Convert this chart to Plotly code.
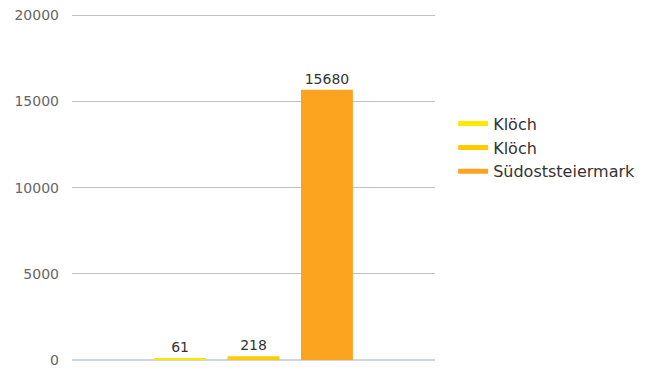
import plotly.graph_objects as go

names = ["Klöch", "Klöch", "Südoststeiermark"]
values = [61, 218, 15680]
colors = ["#ffe800", "#ffcc00", "#fca31f"]
category = [""]
ytick_vals = [0, 5000, 10000, 15000, 20000]
ytick_text = ["0", "5000", "10000", "15000", "20000"]

fig = go.Figure()
for n, v, c in zip(names, values, colors):
    fig.add_trace(go.Bar(
        x=category, y=[v], name=n, marker_color=c, marker_line_width=0,
        text=[str(v)], textposition="outside", cliponaxis=False,
        textfont=dict(family="DejaVu Sans", size=14, color="#333333"),
        showlegend=False,
    ))
for n, c in zip(names, colors):
    fig.add_trace(go.Scatter(
        x=[None], y=[None], mode="lines", name=n,
        line=dict(color=c, width=5),
    ))

fig.update_layout(
    width=640, height=366,
    margin=dict(l=64, r=213, t=3.5, b=14, autoexpand=False),
    paper_bgcolor="white", plot_bgcolor="white",
    barmode="group", bargap=0.393, bargroupgap=0.293,
    font=dict(family="DejaVu Sans", size=12, color="#666666"),
    showlegend=True,
    legend=dict(x=1.05, y=0.61, xanchor="left", yanchor="middle",
                font=dict(size=16, color="#333333"), tracegroupgap=0,
                itemwidth=30),
    xaxis=dict(showticklabels=False, showgrid=False, zeroline=False, showline=False,
               automargin=False),
    yaxis=dict(range=[0, 20200], tickvals=ytick_vals, ticktext=ytick_text,
               showgrid=True, gridcolor="#c0c0c0", gridwidth=1,
               zeroline=True, zerolinecolor="#ccd6e0", zerolinewidth=2,
               ticks="", ticklabelstandoff=12, automargin=False,
               ticklabeloverflow="allow",
               tickfont=dict(size=14, color="#666666")),
)

fig.write_html("out.html")
